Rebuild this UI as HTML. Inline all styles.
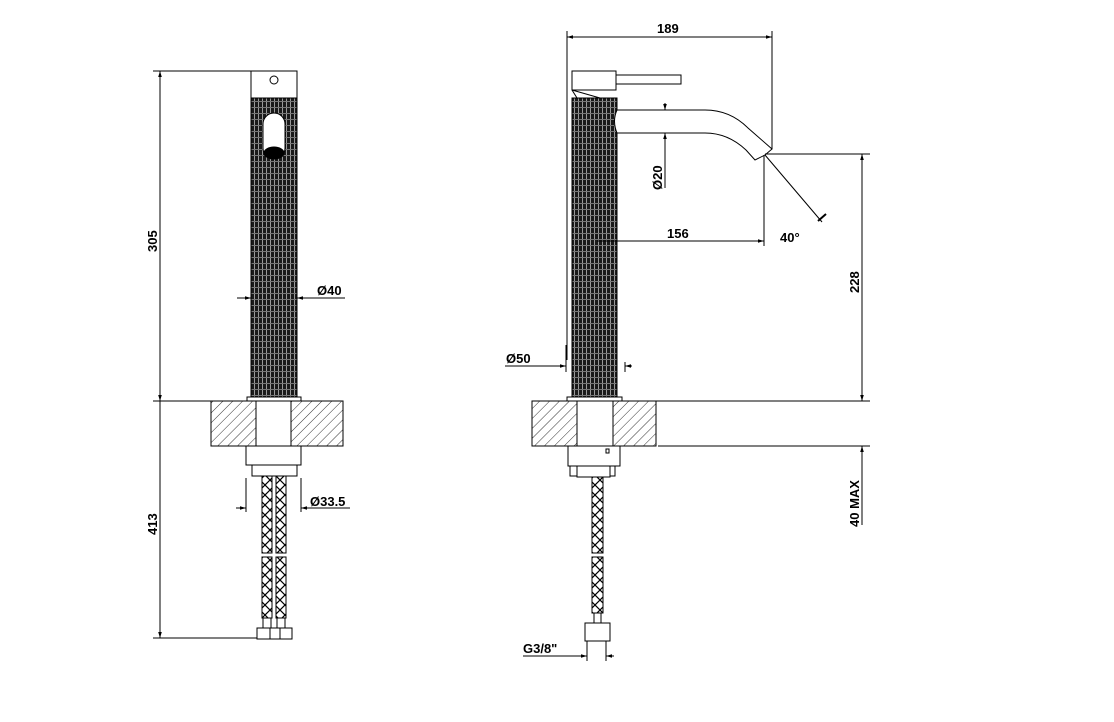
<!DOCTYPE html>
<html><head><style>html,body{margin:0;padding:0;background:#fff}svg{display:block}text{font-family:"Liberation Sans",sans-serif;font-weight:bold;font-size:13px;fill:#000}</style></head>
<body>
<svg width="1114" height="722" viewBox="0 0 1114 722" xmlns="http://www.w3.org/2000/svg">
<defs>
<pattern id="kn" width="4" height="6" patternUnits="userSpaceOnUse">
<rect width="4" height="6" fill="#1a1a1a"/><rect x="2" y="0" width="1" height="6" fill="#9a9a9a"/><rect x="0" y="5" width="4" height="1" fill="#777"/>
</pattern>
<pattern id="hs" width="10" height="10" patternUnits="userSpaceOnUse">
<rect width="10" height="10" fill="#fff"/><path d="M0,0 L10,10 M10,0 L0,10" stroke="#000" stroke-width="1.2"/>
</pattern>
<pattern id="ht" width="7" height="7" patternUnits="userSpaceOnUse" patternTransform="rotate(45)">
<rect width="7" height="7" fill="#fff"/><line x1="0" y1="0" x2="0" y2="7" stroke="#000" stroke-width="0.8"/>
</pattern>
<marker id="ar" viewBox="0 0 10 10" refX="10" refY="5" markerWidth="10" markerHeight="6" orient="auto-start-reverse"><path d="M0,2 L10,5 L0,8z" fill="#000"/></marker>
</defs>
<g stroke="#000" stroke-width="1" fill="none">
<!-- LEFT VIEW -->
<rect x="251" y="71" width="46" height="27" fill="#fff"/>
<circle cx="274" cy="80" r="4"/>
<rect x="251" y="98" width="46" height="299" fill="url(#kn)" stroke="#000"/>
<rect x="263" y="113" width="22" height="46" rx="11" fill="#fff"/>
<ellipse cx="274" cy="153" rx="10" ry="6" fill="#000"/>
<rect x="247" y="397" width="54" height="4" fill="#fff"/>
<rect x="211" y="401" width="132" height="45" fill="url(#ht)"/>
<rect x="256" y="401" width="35" height="45" fill="#fff"/>
<rect x="246" y="446" width="55" height="19" fill="#fff"/>
<rect x="252" y="465" width="45" height="11" fill="#fff"/>
<rect x="262" y="476" width="10" height="77" fill="url(#hs)"/>
<rect x="276" y="476" width="10" height="77" fill="url(#hs)"/>
<rect x="262" y="557" width="10" height="61" fill="url(#hs)"/>
<rect x="276" y="557" width="10" height="61" fill="url(#hs)"/>
<rect x="263" y="618" width="8" height="10" fill="#fff"/>
<rect x="277" y="618" width="8" height="10" fill="#fff"/>
<rect x="257" y="628" width="35" height="11" fill="#fff"/>
<line x1="270" y1="628" x2="270" y2="639"/><line x1="280" y1="628" x2="280" y2="639"/>
<!-- left dims -->
<line x1="160" y1="71" x2="160" y2="638" marker-start="url(#ar)"/>
<line x1="153" y1="71" x2="251" y2="71"/>
<line x1="153" y1="401" x2="211" y2="401"/>
<line x1="153" y1="638" x2="257" y2="638"/>
<line x1="160" y1="395" x2="160" y2="401" marker-end="url(#ar)"/>
<line x1="160" y1="632" x2="160" y2="638" marker-end="url(#ar)"/>
<line x1="237" y1="298" x2="251" y2="298" marker-end="url(#ar)"/>
<line x1="345" y1="298" x2="297" y2="298" marker-end="url(#ar)"/>
<line x1="246" y1="478" x2="246" y2="512"/><line x1="301" y1="478" x2="301" y2="512"/>
<line x1="236" y1="508" x2="246" y2="508" marker-end="url(#ar)"/>
<line x1="350" y1="508" x2="301" y2="508" marker-end="url(#ar)"/>
<!-- RIGHT VIEW -->
<rect x="572" y="71" width="44" height="19" fill="#fff"/>
<rect x="616" y="75" width="65" height="9" fill="#fff"/>
<line x1="572" y1="90" x2="577" y2="98"/><line x1="577" y1="98" x2="600" y2="98"/><line x1="572" y1="90" x2="600" y2="98"/>
<rect x="572" y="98" width="45" height="299" fill="url(#kn)"/>
<path d="M617,110 L705,110 Q730,110 748,128 L772,149 L765,155 L755,160 L746,150 Q728,133 705,133 L617,133" fill="#fff"/>
<path d="M617,110 Q612,121 617,133" fill="#fff"/>
<rect x="567" y="397" width="55" height="4" fill="#fff"/>
<rect x="532" y="401" width="124" height="45" fill="url(#ht)"/>
<rect x="577" y="401" width="36" height="45" fill="#fff"/>
<rect x="568" y="446" width="52" height="20" fill="#fff"/>
<rect x="606" y="449" width="3" height="4"/>
<rect x="570" y="466" width="45" height="10" fill="#fff"/>
<rect x="577" y="466" width="33" height="11" fill="#fff"/>
<rect x="592" y="477" width="11" height="76" fill="url(#hs)"/>
<rect x="592" y="557" width="11" height="56" fill="url(#hs)"/>
<rect x="594" y="613" width="7" height="10" fill="#fff"/>
<rect x="585" y="623" width="25" height="18" fill="#fff"/>
<!-- right dims -->
<line x1="567" y1="31" x2="567" y2="360"/>
<line x1="772" y1="31" x2="772" y2="149"/>
<line x1="567" y1="37" x2="772" y2="37" marker-start="url(#ar)" marker-end="url(#ar)"/>
<line x1="665" y1="103" x2="665" y2="110" marker-end="url(#ar)"/>
<line x1="665" y1="188" x2="665" y2="133" marker-end="url(#ar)"/>
<line x1="597" y1="241" x2="764" y2="241" marker-end="url(#ar)"/>
<line x1="764" y1="155" x2="764" y2="246"/>
<line x1="765" y1="154" x2="870" y2="154"/>
<line x1="765" y1="155" x2="822" y2="222"/>
<line x1="818" y1="221" x2="826" y2="214" stroke-width="2"/>
<line x1="862" y1="154" x2="862" y2="401" marker-start="url(#ar)" marker-end="url(#ar)"/>
<line x1="656" y1="401" x2="870" y2="401"/>
<line x1="658" y1="446" x2="870" y2="446"/>
<line x1="862" y1="525" x2="862" y2="446" marker-end="url(#ar)"/>
<line x1="566" y1="345" x2="566" y2="372"/><line x1="625" y1="362" x2="625" y2="372"/>
<line x1="505" y1="366" x2="566" y2="366" marker-end="url(#ar)"/>
<line x1="632" y1="366" x2="625" y2="366" marker-end="url(#ar)"/>
<line x1="587" y1="641" x2="587" y2="661"/><line x1="606" y1="641" x2="606" y2="661"/>
<line x1="523" y1="656" x2="587" y2="656" marker-end="url(#ar)"/>
<line x1="614" y1="656" x2="606" y2="656" marker-end="url(#ar)"/>
</g>
<text x="317" y="295">Ø40</text>
<text x="310" y="506">Ø33.5</text>
<text transform="translate(157,252) rotate(-90)">305</text>
<text transform="translate(157,535) rotate(-90)">413</text>
<text x="657" y="33">189</text>
<text transform="translate(662,190) rotate(-90)">Ø20</text>
<text x="667" y="238">156</text>
<text x="780" y="242">40°</text>
<text transform="translate(859,293) rotate(-90)">228</text>
<text transform="translate(859,527) rotate(-90)">40 MAX</text>
<text x="506" y="363">Ø50</text>
<text x="523" y="653">G3/8"</text>
</svg>
</body></html>
